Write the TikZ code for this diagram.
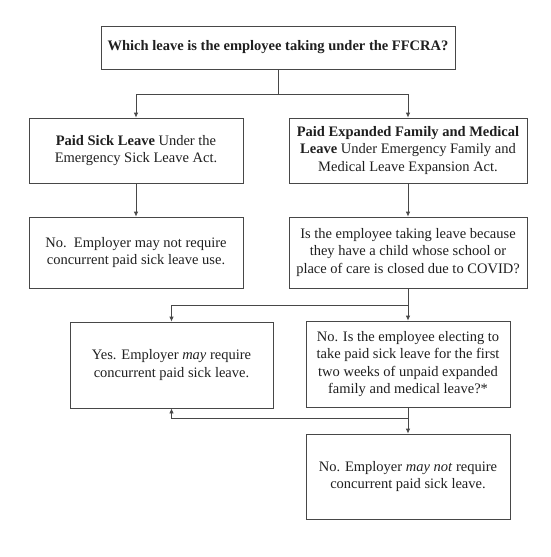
\documentclass[tikz,border=0pt]{standalone}
\usepackage{fontspec}
\setmainfont{Liberation Serif}
\usepackage{tikz}
\usetikzlibrary{arrows.meta}
\tikzset{
	flowbox/.style={draw=black!72, line width=0.8pt, align=center, inner sep=2pt,
		font=\fontsize{14.5}{17.5}\selectfont, text=black!88},
	flowline/.style={draw=black!72, line width=0.8pt},
	flowarrow/.style={flowline, -{Latex[length=5pt,width=4.5pt]}}
}

\begin{document}
\begin{tikzpicture}[x=1pt, y={(0pt,-1pt)}]
			%%%%% START %%%%%
			
			\useasboundingbox (0, 0) rectangle (550, 557);
			
			\node[flowbox, minimum width=354, minimum height=43] (which) at (278, 47.5)
				{\textbf{Which leave is the employee taking under the FFCRA?}};
			
			\node[flowbox, minimum width=214, minimum height=65] (sick) at (136, 150.5)
				{\textbf{Paid Sick Leave} Under the\\Emergency Sick Leave Act.};
			\node[flowbox, minimum width=238, minimum height=65] (family) at (408, 150.5)
				{\textbf{Paid Expanded Family and Medical}\\\textbf{Leave} Under Emergency Family and\\Medical Leave Expansion Act.};
			
			\node[flowbox, minimum width=214, minimum height=71] (sicknot) at (136, 252.5)
				{No.\ \ Employer may not require\\concurrent paid sick leave use.};
			\node[flowbox, minimum width=238, minimum height=71] (child) at (408, 252.5)
				{Is the employee taking leave because\\they have a child whose school or\\place of care is closed due to COVID?};
			
			\node[flowbox, minimum width=203, minimum height=86] (yesmay) at (171.5, 365)
				{Yes. Employer \textit{may} require\\concurrent paid sick leave.};
			\node[flowbox, minimum width=204, minimum height=86] (electing) at (408, 364)
				{No. Is the employee electing to\\take paid sick leave for the first\\two weeks of unpaid expanded\\family and medical leave?*};
			
			\node[flowbox, minimum width=204, minimum height=85] (maynot) at (408, 476.5)
				{No. Employer \textit{may not} require\\concurrent paid sick leave.};
			
			% connectors
			\coordinate (split1) at (278, 94);
			\coordinate (split2) at (408, 305);
			\coordinate (split3) at (408, 418);
			
			\draw[flowline] (which.south) -- (split1);
			\draw[flowarrow] (split1) -| (sick.north);
			\draw[flowarrow] (split1) -| (family.north);
			
			\draw[flowarrow] (sick.south) -- (sicknot.north);
			\draw[flowarrow] (family.south) -- (child.north);
			
			\draw[flowline] (child.south) -- (split2);
			\draw[flowarrow] (split2) -| (yesmay.north);
			\draw[flowarrow] (split2) -- (electing.north);
			
			\draw[flowline] (electing.south) -- (split3);
			\draw[flowarrow] (split3) -| (yesmay.south);
			\draw[flowarrow] (split3) -- (maynot.north);
			
			%%%%% END %%%%%
		\end{tikzpicture}
\end{document}
